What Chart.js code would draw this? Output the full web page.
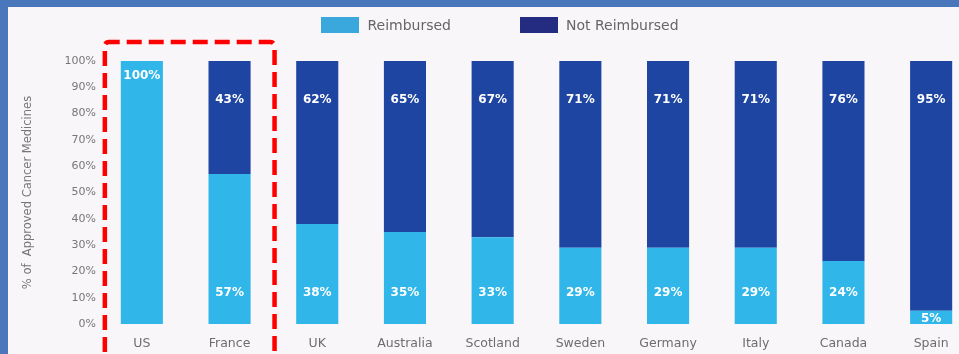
<!DOCTYPE html>
<html>
<head>
<meta charset="utf-8">
<script src="https://cdn.jsdelivr.net/npm/chart.js@4"></script>
<style>
  html, body { margin: 0; padding: 0; }
  body { width: 959px; height: 354px; overflow: hidden; background: #4a77bb; position: relative; }
  #panel { position: absolute; left: 8px; top: 7px; width: 990px; height: 360px; background: #f8f6f8; }
  #wrap { position: absolute; left: 0; top: 0; width: 984px; height: 347px; }
  #legend { position: absolute; top: 10px; left: 0; width: 984px; display: flex; justify-content: center;
            font-family: "DejaVu Sans", sans-serif; font-size: 14px; color: #666; }
  .item { display: flex; align-items: center; }
  .item + .item { margin-left: 69px; }
  .swatch { width: 38px; height: 16px; margin-right: 8px; }
</style>
</head>
<body>
<div id="panel">
  <div id="wrap"><canvas id="chart" width="984" height="347"></canvas></div>
  <div id="legend"></div>
</div>
<script>
const countries = ['US', 'France', 'UK', 'Australia', 'Scotland', 'Sweden', 'Germany', 'Italy', 'Canada', 'Spain'];
const reimbursed = [100, 57, 38, 35, 33, 29, 29, 29, 24, 5];
const notReimbursed = [0, 43, 62, 65, 67, 71, 71, 71, 76, 95];
const yTicks = [0, 10, 20, 30, 40, 50, 60, 70, 80, 90, 100];

const seriesNames = ['Reimbursed', 'Not Reimbursed'];
const barColors = ['#30b6e9', '#1e45a1'];
const legendColors = ['#3aa8dd', '#232c80'];

// html legend (needs wider gap between items than chart.js gives)
const legendEl = document.getElementById('legend');
seriesNames.forEach((name, i) => {
    const item = document.createElement('div');
    item.className = 'item';
    item.innerHTML = `<span class="swatch" style="background:${legendColors[i]}"></span><span>${name}</span>`;
    legendEl.appendChild(item);
});

const barLabels = {
    id: 'barLabels',
    afterDatasetsDraw(chart) {
        const ctx = chart.ctx;
        ctx.save();
        ctx.fillStyle = '#ffffff';
        ctx.font = 'bold 12px "DejaVu Sans"';
        ctx.textAlign = 'center';
        ctx.textBaseline = 'middle';
        chart.data.datasets.forEach((ds, di) => {
            chart.getDatasetMeta(di).data.forEach((bar, i) => {
                const v = ds.data[i];
                if (!v) return;
                const top = Math.min(bar.y, bar.base);
                const bottom = Math.max(bar.y, bar.base);
                let y;
                if (di === 1) {
                    y = top + 39;
                } else if (v === 100) {
                    y = top + 15;
                } else if (bottom - top > 45) {
                    y = bottom - 31;
                } else {
                    y = (top + bottom) / 2 + 1;
                }
                ctx.fillText(v + '%', bar.x, y);
            });
        });
        ctx.restore();
    }
};

const highlightBox = {
    id: 'highlightBox',
    afterDraw(chart) {
        const x = chart.scales.x;
        const ctx = chart.ctx;
        const left = x.getPixelForValue(0) - 37;
        const right = x.getPixelForValue(1) + 45;
        const top = chart.chartArea.top - 19;
        const bottom = chart.height + 20;
        const r = 4;
        ctx.save();
        ctx.strokeStyle = '#ff0000';
        ctx.lineWidth = 4.5;
        ctx.setLineDash([15, 7]);
        ctx.beginPath();
        ctx.moveTo(left, bottom);
        ctx.lineTo(left, top + r);
        ctx.arcTo(left, top, left + r, top, r);
        ctx.lineTo(right - r, top);
        ctx.arcTo(right, top, right, top + r, r);
        ctx.lineTo(right, bottom);
        ctx.stroke();
        ctx.restore();
    }
};

new Chart(document.getElementById('chart').getContext('2d'), {
    type: 'bar',
    data: {
        labels: countries,
        datasets: [
            { label: seriesNames[0], data: reimbursed, backgroundColor: barColors[0] },
            { label: seriesNames[1], data: notReimbursed, backgroundColor: barColors[1] }
        ]
    },
    options: {
        responsive: false,
        animation: false,
        barPercentage: 0.48,
        categoryPercentage: 1,
        layout: { padding: { top: 54, right: 17, left: 0, bottom: 0 } },
        plugins: {
            legend: { display: false },
            tooltip: { enabled: false }
        },
        scales: {
            x: {
                stacked: true,
                grid: { display: false, drawTicks: false },
                border: { display: false },
                ticks: {
                    padding: 12,
                    color: '#6e6e6e',
                    font: { family: 'DejaVu Sans', size: 12.5 }
                },
                afterFit(axis) { axis.height = 30; }
            },
            y: {
                stacked: true,
                min: 0,
                max: 100,
                grid: { display: false, drawTicks: false },
                border: { display: false },
                afterBuildTicks(axis) { axis.ticks = yTicks.map(v => ({ value: v })); },
                ticks: {
                    padding: 2,
                    color: '#777777',
                    font: { family: 'DejaVu Sans', size: 11 },
                    callback: v => v + '%'
                },
                title: {
                    display: true,
                    text: '% of  Approved Cancer Medicines',
                    color: '#777777',
                    font: { family: 'DejaVu Sans', size: 11.5 },
                    padding: { top: 13, bottom: 0 }
                },
                afterFit(axis) { axis.width = 90; }
            }
        }
    },
    plugins: [barLabels, highlightBox]
});
</script>
</body>
</html>
